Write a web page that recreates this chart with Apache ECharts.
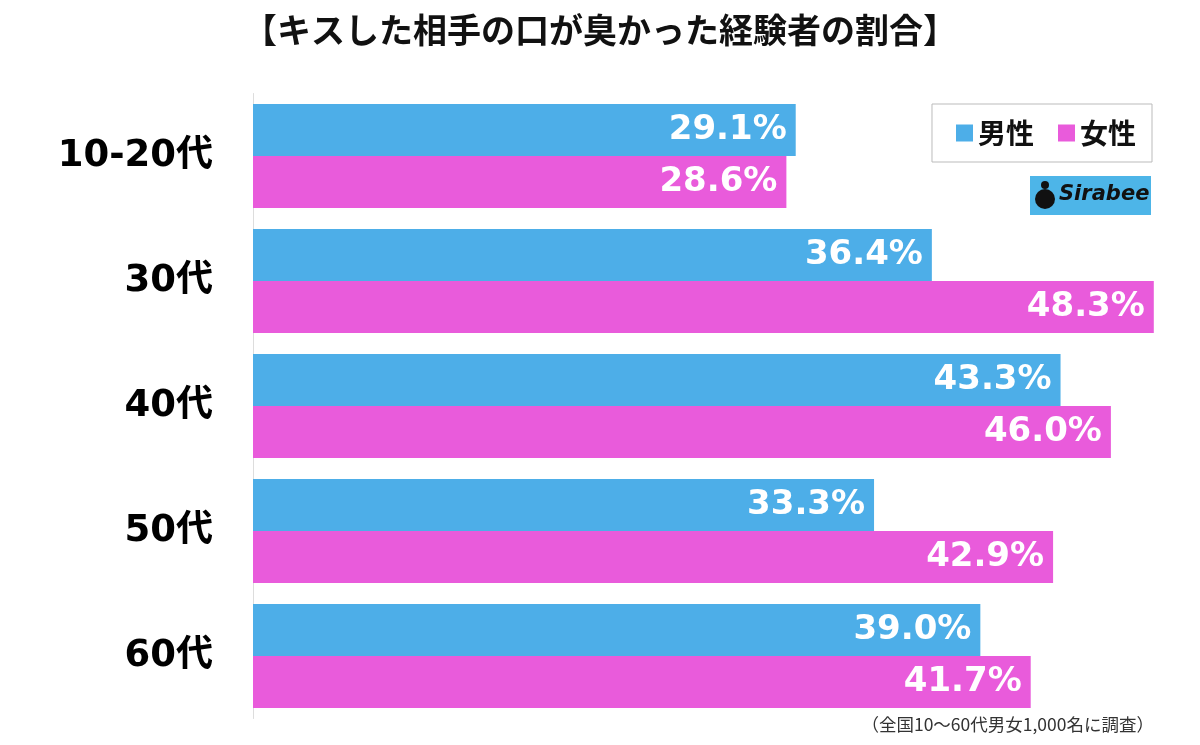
<!DOCTYPE html>
<html>
<head>
<meta charset="utf-8">
<script src="https://cdn.jsdelivr.net/npm/echarts@6/dist/echarts.min.js"></script>
<style>
  html, body { margin: 0; padding: 0; background: #fff; }
  #main { width: 1200px; height: 745px; }
</style>
</head>
<body>
<div id="main"></div>
<script>
const ageGroups = ['10-20代', '30代', '40代', '50代', '60代'];
const maleValues = [29.1, 36.4, 43.3, 33.3, 39.0];
const femaleValues = [28.6, 48.3, 46.0, 42.9, 41.7];

const blue = '#4DAEE8';
const pink = '#E95BDB';
const font = '"Noto Sans CJK JP", "Noto Sans", sans-serif';
const numFont = '"DejaVu Sans", "Noto Sans CJK JP", sans-serif';

const barLabel = {
  show: true,
  position: 'insideRight',
  distance: 9,
  color: '#fff',
  fontFamily: numFont,
  fontWeight: 'bold',
  fontSize: 34,
  formatter: p => p.value.toFixed(1) + '%'
};

const chart = echarts.init(document.getElementById('main'));
chart.setOption({
  backgroundColor: '#fff',
  animation: false,
  title: {
    text: '【キスした相手の口が臭かった経験者の割合】',
    left: 'center',
    top: 8,
    textStyle: { fontFamily: font, fontWeight: 'bold', fontSize: 34, color: '#111' }
  },
  legend: {
    right: 48,
    top: 104,
    padding: [15, 16, 15, 24],
    icon: 'rect',
    itemWidth: 17,
    itemHeight: 17,
    itemGap: 24,
    borderColor: '#bbb',
    borderWidth: 1,
    backgroundColor: '#fff',
    textStyle: { fontFamily: font, fontWeight: 'bold', fontSize: 28, color: '#111' },
    data: ['男性', '女性']
  },
  grid: { left: 253, top: 93.5, height: 625, right: 14.5 },
  xAxis: {
    type: 'value',
    min: 0,
    max: 50,
    show: false
  },
  yAxis: {
    type: 'category',
    inverse: true,
    data: ageGroups,
    axisLine: { show: true, lineStyle: { color: '#ddd' } },
    axisTick: { show: false },
    axisLabel: {
      margin: 40,
      fontFamily: numFont,
      fontWeight: 'bold',
      fontSize: 37,
      color: '#000'
    }
  },
  series: [
    {
      name: '男性',
      type: 'bar',
      barWidth: 52,
      barGap: '0%',
      itemStyle: { color: blue },
      label: barLabel,
      data: maleValues
    },
    {
      name: '女性',
      type: 'bar',
      barWidth: 52,
      itemStyle: { color: pink },
      label: barLabel,
      data: femaleValues
    }
  ],
  graphic: [
    {
      type: 'rect',
      left: 1030,
      top: 176,
      shape: { width: 121, height: 39 },
      style: { fill: '#4DB5E8' }
    },
    {
      type: 'circle',
      left: 1035,
      top: 189,
      shape: { r: 10 },
      style: { fill: '#111' }
    },
    {
      type: 'circle',
      left: 1041,
      top: 181,
      shape: { r: 4 },
      style: { fill: '#111' }
    },
    {
      type: 'text',
      left: 1059,
      top: 184,
      style: {
        text: 'Sirabee',
        fill: '#111',
        font: 'italic bold 21px "DejaVu Sans", sans-serif'
      }
    },
    {
      type: 'text',
      right: 46,
      top: 716,
      style: {
        text: '（全国10〜60代男女1,000名に調査）',
        fill: '#333',
        font: '17.5px "Noto Sans CJK JP", sans-serif'
      }
    }
  ]
});
</script>
</body>
</html>
